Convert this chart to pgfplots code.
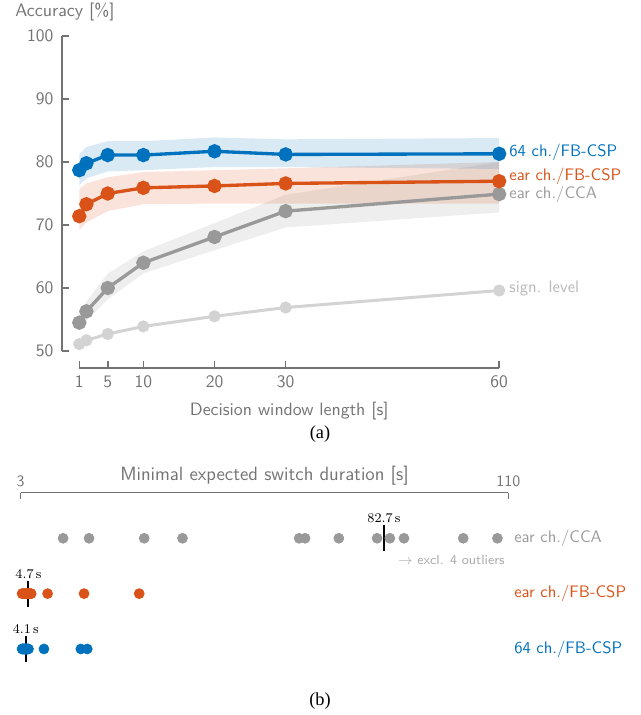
\documentclass[border=0pt]{standalone}
\usepackage{pgfplots}
\pgfplotsset{compat=1.18}
\usepgfplotslibrary{fillbetween}
\usepackage{fontspec}
\newfontfamily\timesfont{Liberation Serif}
\definecolor{cblue}{RGB}{0,114,189}
\definecolor{corange}{RGB}{217,83,25}
\definecolor{cgray}{RGB}{153,153,153}
\definecolor{csig}{RGB}{211,211,211}
\definecolor{axgray}{RGB}{115,115,115}
\definecolor{sigtext}{RGB}{185,185,185}
\definecolor{ccatext}{RGB}{155,155,155}
\definecolor{outl}{RGB}{170,170,170}
\begin{document}
\begin{tikzpicture}
% ---------------- (a) ----------------
\begin{axis}[
  at={(37.2pt,-220.8pt)}, anchor=south west,
  scale only axis, width=262.3pt, height=199.2pt,
  xmin=-1.43, xmax=60, ymin=47.3, ymax=100,
  axis x line*=bottom, axis y line*=left,
  axis line style={draw=none},
  xtick={1,5,10,20,30,60}, ytick={50,60,70,80,90,100},
  tick align=inside, major tick length=4.2pt,
  tick style={axgray, line width=0.9pt},
  /pgf/number format/assume math mode=true,
  tick label style={font=\sffamily\fontsize{10.5}{12}\selectfont, text=axgray},
  yticklabel style={xshift=-1.7pt},
  xticklabel style={yshift=-1.3pt},
  clip=false,
]
\draw[axgray, line width=0.9pt] (axis cs:-1.43,50) -- (axis cs:-1.43,100);
\draw[axgray, line width=0.9pt] (axis cs:1,47.3) -- (axis cs:60,47.3);
% bands
\addplot[name path=gu, draw=none, forget plot] coordinates {(1,56.0)(2,57.8)(5,62.3)(10,65.8)(20,70.3)(30,74.8)(60,80.0)};
\addplot[name path=gl, draw=none, forget plot] coordinates {(1,53.2)(2,54.8)(5,58.2)(10,62.3)(20,66.0)(30,69.6)(60,72.0)};
\addplot[fill=cgray, fill opacity=0.17, draw=none, forget plot] fill between[of=gu and gl];
\addplot[name path=ou, draw=none, forget plot] coordinates {(1,75.7)(2,76.6)(5,77.6)(10,78.4)(20,78.7)(30,79.0)(60,80.0)};
\addplot[name path=ol, draw=none, forget plot] coordinates {(1,69.2)(2,70.4)(5,72.2)(10,73.3)(20,73.4)(30,73.4)(60,73.4)};
\addplot[fill=corange, fill opacity=0.16, draw=none, forget plot] fill between[of=ou and ol];
\addplot[name path=bu, draw=none, forget plot] coordinates {(1,81.2)(2,82.4)(5,83.3)(10,83.3)(20,83.9)(30,83.6)(60,83.8)};
\addplot[name path=bl, draw=none, forget plot] coordinates {(1,76.3)(2,77.4)(5,78.5)(10,78.7)(20,79.2)(30,79.2)(60,78.9)};
\addplot[fill=cblue, fill opacity=0.15, draw=none, forget plot] fill between[of=bu and bl];
% lines
\addplot[csig, line width=1.8pt, mark=*, mark size=2.7pt, mark options={draw=none, fill=csig}]
  coordinates {(1,51.1)(2,51.7)(5,52.7)(10,53.9)(20,55.5)(30,56.9)(60,59.6)};
\addplot[cgray, line width=2pt, mark=*, mark size=3.3pt, mark options={draw=none, fill=cgray}]
  coordinates {(1,54.5)(2,56.3)(5,60.0)(10,64.0)(20,68.1)(30,72.2)(60,74.9)};
\addplot[corange, line width=2pt, mark=*, mark size=3.3pt, mark options={draw=none, fill=corange}]
  coordinates {(1,71.4)(2,73.3)(5,75.0)(10,75.9)(20,76.2)(30,76.6)(60,76.95)};
\addplot[cblue, line width=2pt, mark=*, mark size=3.3pt, mark options={draw=none, fill=cblue}]
  coordinates {(1,78.7)(2,79.8)(5,81.1)(10,81.1)(20,81.7)(30,81.2)(60,81.3)};
% labels
\node[anchor=west, xshift=2.6pt, text=cblue, font=\sffamily\fontsize{10}{12}\selectfont] at (axis cs:60,81.5) {64 ch./FB-CSP};
\node[anchor=west, xshift=2.6pt, text=corange, font=\sffamily\fontsize{10}{12}\selectfont] at (axis cs:60,77.7) {ear ch./FB-CSP};
\node[anchor=west, xshift=2.6pt, text=ccatext, font=\sffamily\fontsize{10}{12}\selectfont] at (axis cs:60,74.8) {ear ch./CCA};
\node[anchor=west, xshift=2.6pt, text=sigtext, font=\sffamily\fontsize{10}{12}\selectfont] at (axis cs:60,59.9) {sign. level};
\node[anchor=base, xshift=1.8pt, yshift=11.6pt, text=axgray, font=\sffamily\fontsize{10.8}{12}\selectfont] at (rel axis cs:0,1) {Accuracy [\%]};
\node[anchor=base, yshift=-28.6pt, text=axgray, font=\sffamily\fontsize{10.7}{12}\selectfont] at (axis cs:30.5,47.3) {Decision window length [s]};
\end{axis}
\node[font=\timesfont\fontsize{11}{13}\selectfont] at (192pt,-260.4pt) {(a)};
% ---------------- (b) ----------------
\begin{axis}[
  at={(12.42pt,-402.66pt)}, anchor=south west,
  scale only axis, width=292.6pt, height=107.16pt,
  xmin=3, xmax=110, ymin=0.6, ymax=3.827,
  axis x line*=top, axis y line=none,
  axis line style={axgray, line width=0.8pt},
  xtick={3,110}, ytick=\empty,
  tick align=inside, major tick length=3.9pt,
  tick style={axgray, line width=0.8pt},
  /pgf/number format/assume math mode=true,
  tick label style={font=\sffamily\fontsize{9.5}{11}\selectfont, text=axgray},
  clip=false,
]
\node[anchor=base, yshift=7.1pt, text=axgray, font=\sffamily\fontsize{11.5}{13}\selectfont] at (axis cs:56.5,3.827) {Minimal expected switch duration [s]};
\addplot[cgray, only marks, mark=*, mark size=3pt, mark options={draw=none, fill=cgray}]
  coordinates {(12.3,3)(18.0,3)(30.1,3)(38.5,3)(64.1,3)(65.4,3)(72.8,3)(81.2,3)(84.0,3)(87.1,3)(100.1,3)(107.6,3)};
\addplot[corange, only marks, mark=*, mark size=3pt, mark options={draw=none, fill=corange}]
  coordinates {(3.3,2)(3.5,2)(3.6,2)(3.8,2)(4.0,2)(4.2,2)(4.4,2)(4.6,2)(4.8,2)(4.9,2)(5.0,2)(5.2,2)(5.3,2)(8.9,2)(16.9,2)(29.0,2)};
\addplot[cblue, only marks, mark=*, mark size=3pt, mark options={draw=none, fill=cblue}]
  coordinates {(3.3,1)(3.4,1)(3.5,1)(3.6,1)(3.8,1)(3.9,1)(4.0,1)(4.1,1)(4.1,1)(4.3,1)(4.4,1)(4.6,1)(4.7,1)(8.1,1)(16.2,1)(17.6,1)};
\addplot[black, line width=1.2pt] coordinates {(82.7,2.765)(82.7,3.235)};
\addplot[black, line width=1.2pt] coordinates {(4.7,1.765)(4.7,2.235)};
\addplot[black, line width=1.2pt] coordinates {(4.1,0.765)(4.1,1.235)};
\node[anchor=south, inner sep=1.2pt, font=\rmfamily\fontsize{8}{9}\selectfont] at (axis cs:82.7,3.235) {82.7\,s};
\node[anchor=south, inner sep=1.2pt, font=\rmfamily\fontsize{8}{9}\selectfont] at (axis cs:4.7,2.235) {4.7\,s};
\node[anchor=south, inner sep=1.2pt, font=\rmfamily\fontsize{8}{9}\selectfont] at (axis cs:4.1,1.235) {4.1\,s};
\node[anchor=west, inner sep=0pt, text=outl, font=\sffamily\fontsize{8}{9}\selectfont] at (axis cs:85.8,2.608) {$\rightarrow$ excl. 4 outliers};
\node[anchor=west, text=ccatext, font=\sffamily\fontsize{10}{12}\selectfont] at (axis cs:110,3) {ear ch./CCA};
\node[anchor=west, text=corange, font=\sffamily\fontsize{10}{12}\selectfont] at (axis cs:110,2) {ear ch./FB-CSP};
\node[anchor=west, text=cblue, font=\sffamily\fontsize{10}{12}\selectfont] at (axis cs:110,1) {64 ch./FB-CSP};
\end{axis}
\node[font=\timesfont\fontsize{11}{13}\selectfont] at (192pt,-420.6pt) {(b)};
\pgfresetboundingbox
\useasboundingbox (0pt,0pt) rectangle (384.6pt,-429pt);
\end{tikzpicture}
\end{document}
